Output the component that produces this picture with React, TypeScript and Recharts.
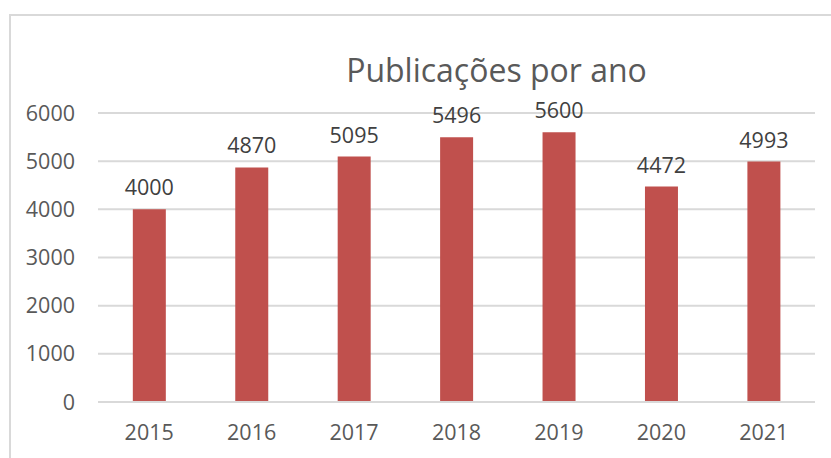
import { Bar, BarChart, CartesianGrid, LabelList, XAxis, YAxis } from "recharts"

const years = ["2015", "2016", "2017", "2018", "2019", "2020", "2021"]
const publications = [4000, 4870, 5095, 5496, 5600, 4472, 4993]
const yTicks = [0, 1000, 2000, 3000, 4000, 5000, 6000]

const data = years.map((year, i) => ({ year, value: publications[i] }))

const FONT = "'Open Sans', Lato, sans-serif"

export default function App() {
  return (
    <div style={{ position: "absolute", left: 0, top: 0, width: 831, height: 458, overflow: "hidden", background: "#fff" }}>
      <div
        style={{
          position: "absolute",
          left: 9,
          top: 14,
          width: 900,
          height: 500,
          border: "2px solid #d9d9d9",
        }}
      />
      <div
        style={{
          position: "absolute",
          left: 0,
          top: 50,
          width: 993,
          textAlign: "center",
          fontFamily: FONT,
          fontSize: 32,
          color: "#595959",
          lineHeight: "40px",
        }}
      >
        Publicações por ano
      </div>
      <div style={{ position: "absolute", left: 0, top: 0 }}>
        <BarChart
          width={831}
          height={458}
          data={data}
          margin={{ top: 113, right: 16, bottom: 26, left: 0 }}
          barCategoryGap="34%"
        >
          <CartesianGrid vertical={false} stroke="#d9d9d9" strokeWidth={2} />
          <XAxis
            dataKey="year"
            axisLine={{ stroke: "#d9d9d9", strokeWidth: 2 }}
            tickLine={false}
            height={30}
            tickMargin={17}
            tick={{ fill: "#595959", fontSize: 21.5, fontFamily: FONT }}
          />
          <YAxis
            width={98}
            domain={[0, 6000]}
            ticks={yTicks}
            axisLine={false}
            tickLine={false}
            tickMargin={17}
            tick={{ fill: "#595959", fontSize: 21.5, fontFamily: FONT }}
          />
          <Bar dataKey="value" fill="#c0504d" isAnimationActive={false}>
            <LabelList
              dataKey="value"
              position="top"
              offset={14}
              fill="#404040"
              fontSize={21.5}
              fontFamily={FONT}
            />
          </Bar>
        </BarChart>
      </div>
    </div>
  )
}
